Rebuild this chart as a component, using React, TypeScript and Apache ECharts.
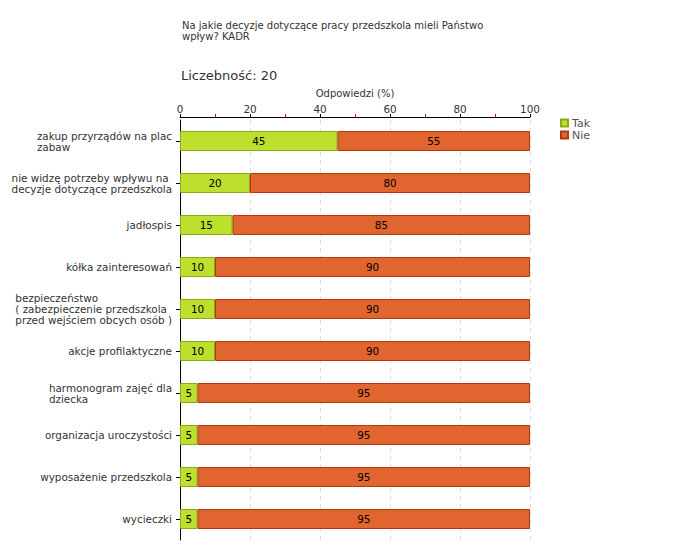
import React, { useEffect, useRef } from "react";
import * as echarts from "echarts";

const categories: string[] = [
  "zakup przyrządów na plac\nzabaw",
  "nie widzę potrzeby wpływu na\ndecyzje dotyczące przedszkola",
  "jadłospis",
  "kółka zainteresowań",
  "bezpieczeństwo\n( zabezpieczenie przedszkola\nprzed wejściem obcych osób )",
  "akcje profilaktyczne",
  "harmonogram zajęć dla\ndziecka",
  "organizacja uroczystości",
  "wyposażenie przedszkola",
  "wycieczki",
];
const takValues: number[] = [45, 20, 15, 10, 10, 10, 5, 5, 5, 5];
const nieValues: number[] = [55, 80, 85, 90, 90, 90, 95, 95, 95, 95];
const seriesNames: string[] = ["Tak", "Nie"];
const titleText = "Na jakie decyzje dotyczące pracy przedszkola mieli Państwo\nwpływ? KADR";
const countText = "Liczebność: 20";
const axisName = "Odpowiedzi (%)";

const FONT = "DejaVu Sans";
const LBL = 10.4;

function measure(text: string, size: number): number {
  const c = document.createElement("canvas").getContext("2d");
  if (!c) return text.length * size * 0.58;
  c.font = `${size}px "${FONT}"`;
  return c.measureText(text).width;
}

export default function App() {
  const ref = useRef<HTMLDivElement>(null);
  useEffect(() => {
    if (!ref.current) return;
    const chart = echarts.init(ref.current, null, { renderer: "svg" });
    const rich: Record<string, any> = {};
    categories.forEach((c, i) => {
      const w = Math.max(...c.split("\n").map((l) => measure(l, LBL))) + 1;
      rich["l" + i] = {
        width: w,
        align: "left",
        fontSize: LBL,
        fontFamily: FONT,
        color: "#333",
        lineHeight: 11,
      };
    });
    chart.setOption({
      animation: false,
      textStyle: { fontFamily: FONT },
      graphic: [
        {
          type: "text",
          left: 174,
          top: 12,
          style: {
            text: titleText,
            fontSize: 10,
            fontFamily: FONT,
            fill: "#333",
            lineHeight: 11,
          },
        },
        {
          type: "text",
          left: 173,
          top: 61,
          style: { text: countText, fontSize: 13, fontFamily: FONT, fill: "#333" },
        },
      ],
      legend: {
        orient: "vertical",
        left: 552,
        top: 109,
        padding: 0,
        itemWidth: 7,
        itemHeight: 7,
        itemGap: 0,
        icon: "rect",
        textStyle: {
          fontSize: 11,
          lineHeight: 12,
          color: "#555",
          fontFamily: FONT,
          padding: [0, 0, 0, -1],
        },
        data: seriesNames,
      },
      grid: { left: 172, top: 112, width: 350, height: 420, containLabel: false },
      xAxis: {
        type: "value",
        position: "top",
        min: 0,
        max: 100,
        interval: 20,
        offset: 3,
        name: axisName,
        nameLocation: "middle",
        nameGap: 19,
        nameTextStyle: { fontSize: 10, color: "#333", fontFamily: FONT },
        axisLine: { show: true, lineStyle: { color: "#000", width: 1 } },
        axisTick: { show: true, length: 3, lineStyle: { color: "#000" } },
        minorTick: { show: true, splitNumber: 2, length: 3, lineStyle: { color: "#d00" } },
        axisLabel: { fontSize: 10.4, color: "#333", margin: 3, fontFamily: FONT },
        splitLine: { show: true, lineStyle: { color: "#ddd", type: [4, 4] } },
      },
      yAxis: {
        type: "category",
        inverse: true,
        data: categories,
        axisLine: { show: true, lineStyle: { color: "#000", width: 1 } },
        axisTick: { show: true, length: 4, alignWithLabel: true, lineStyle: { color: "#000" } },
        axisLabel: {
          margin: 7,
          formatter: (v: string, i: number) =>
            v
              .split("\n")
              .map((l) => `{l${i}|${l}}`)
              .join("\n"),
          rich,
        },
        splitLine: { show: false },
      },
      series: [
        {
          name: seriesNames[0],
          type: "bar",
          stack: "s",
          barWidth: 20,
          data: takValues,
          itemStyle: { color: "#bde02e", borderColor: "#8aaa12", borderWidth: 1 },
          label: {
            show: true,
            position: "inside",
            color: "#000",
            fontSize: 10.4,
            fontFamily: FONT,
          },
        },
        {
          name: seriesNames[1],
          type: "bar",
          stack: "s",
          barWidth: 20,
          data: nieValues,
          itemStyle: { color: "#e0652f", borderColor: "#b03a0e", borderWidth: 1 },
          label: {
            show: true,
            position: "inside",
            color: "#000",
            fontSize: 10.4,
            fontFamily: FONT,
          },
        },
      ],
    });
    return () => chart.dispose();
  }, []);
  return <div ref={ref} style={{ width: 672, height: 552 }} />;
}
